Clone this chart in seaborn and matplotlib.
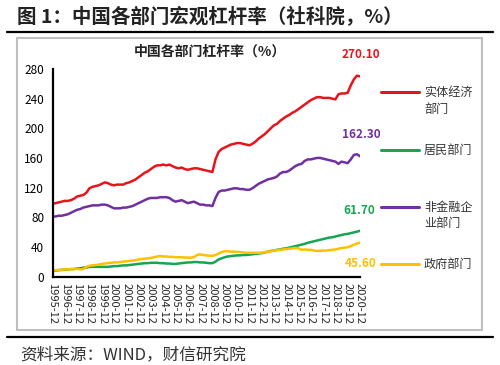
import numpy as np
import pandas as pd
import seaborn as sns
import matplotlib
matplotlib.use("Agg")
import matplotlib.pyplot as plt
from matplotlib.lines import Line2D
from matplotlib.patches import Rectangle

# ---------------- data (quarterly, 1995-12 .. 2020-12) ----------------
years = list(range(1995, 2021))
tick_labels = [f"{y}-12" for y in years]

real_economy = [98,
    99, 100, 101, 102,
    102, 103, 105, 108,
    109, 110, 113, 119,
    121, 122, 123, 125,
    127, 126, 124, 123,
    124, 124, 124, 126,
    127, 129, 131, 134,
    137, 140, 142, 145,
    148, 150, 150, 151,
    150, 151, 149, 147,
    146, 147, 145, 144,
    145, 146, 146, 145,
    144, 143, 142, 141,
    158, 168, 172, 174,
    176, 178, 179, 180,
    180, 179, 178, 177,
    179, 182, 186, 189,
    192, 196, 200, 204,
    206, 210, 213, 216,
    218, 221, 223, 226,
    229, 232, 235, 238,
    240, 242, 242, 241,
    241, 241, 240, 239,
    246, 247, 247, 248,
    258, 266, 271, 270.10]

household = [8,
    8, 8.5, 9, 9,
    9.5, 10, 10, 11,
    11, 12, 12, 13,
    13, 13, 13, 13,
    13, 13, 13.5, 14,
    14, 14.5, 15, 15,
    15.5, 16, 16.5, 17,
    17.5, 18, 18, 18.5,
    18.5, 18.5, 18, 18,
    17.5, 17.5, 17, 17,
    17.5, 18, 18.5, 19,
    19, 19.5, 19.5, 19,
    19, 18.5, 18, 18,
    20, 23, 24.5, 26,
    27, 27.5, 28, 28.5,
    28.5, 29, 29, 29.5,
    30, 30.5, 31, 31.5,
    32.5, 33.5, 34.5, 35,
    36, 36.5, 37.5, 38,
    39, 40, 41, 42,
    43, 44, 45.5, 46.5,
    47.5, 48.5, 49.5, 50.5,
    51.5, 52.5, 53, 54,
    55, 56, 57, 57.5,
    58.5, 59.5, 60.5, 61.70]

corporate = [81,
    81, 82, 82, 83,
    84, 86, 88, 90,
    91, 93, 94, 95,
    96, 96, 96, 97,
    97, 96, 94, 92,
    92, 92, 93, 93,
    94, 95, 97, 99,
    101, 103, 105, 106,
    106, 106, 107, 107,
    107, 106, 103, 101,
    102, 103, 101, 99,
    100, 101, 99, 97,
    97, 96, 96, 95,
    106, 114, 116, 116,
    117, 118, 119, 119,
    118, 118, 117, 117,
    119, 122, 125, 127,
    129, 131, 132, 133,
    135, 139, 141, 141,
    143, 146, 149, 151,
    152, 156, 158, 158,
    159, 160, 160, 159,
    158, 157, 156, 155,
    152, 155, 154, 153,
    158, 164, 165, 162.30]

government = [8,
    8.5, 9, 9, 9.5,
    9.5, 10, 10, 10.5,
    9.5, 10, 13, 14.5,
    15, 15.5, 16, 17,
    17.5, 18, 18.5, 19,
    19, 19.5, 20, 20.5,
    21, 21.5, 22, 23,
    23.5, 24, 24.5, 25,
    26, 27, 27.5, 27,
    27, 26.5, 26.5, 26,
    26, 26, 25.5, 25.5,
    25.5, 26, 29, 30,
    29, 28.5, 28, 28,
    29, 31, 33, 34,
    34, 33.5, 33.5, 33,
    33, 32.5, 32, 32,
    32, 32, 32, 32,
    33, 33.5, 34, 35,
    35.5, 36, 36.5, 37,
    37.5, 38, 38.5, 38,
    36, 36.5, 36, 36,
    35, 34.5, 34.5, 35,
    35, 35.5, 36, 36.5,
    37.5, 38.5, 39, 39.5,
    41, 43, 44.5, 45.60]

series_names = ["实体经济部门", "居民部门", "非金融企业部门", "政府部门"]
legend_lines = [["实体经济", "部门"], ["居民部门"], ["非金融企", "业部门"], ["政府部门"]]
series_values = [real_economy, household, corporate, government]
colors = ["#E8141C", "#17A552", "#7030A0", "#FFC000"]

rows = []
for name, vals in zip(series_names, series_values):
    for i, v in enumerate(vals):
        rows.append({"idx": i, "value": v, "sector": name})
df = pd.DataFrame(rows)

# ---------------- style ----------------
sns.set_style("white")
plt.rcParams["font.family"] = ["Noto Sans CJK SC", "DejaVu Sans"]
plt.rcParams["axes.unicode_minus"] = False

W, H = 500, 365
fig = plt.figure(figsize=(W / 100, H / 100), dpi=100)


def fx(x):
    return x / W


def fy(y):
    return 1 - y / H


# axes placement (pixel based)
ax_left, ax_right, ax_top, ax_bottom = 52.5, 360, 69, 276.5
ax = fig.add_axes([fx(ax_left), fy(ax_bottom), fx(ax_right - ax_left), (ax_bottom - ax_top) / H])

sns.lineplot(data=df, x="idx", y="value", hue="sector", hue_order=series_names,
             palette=colors, linewidth=1.8, legend=False, ax=ax)

n = len(real_economy)
ax.set_xlim(0, n - 1)
ax.set_ylim(0, 280)
ax.set_yticks(np.arange(0, 281, 40))
ax.set_xticks(np.arange(0, n, 4))
ax.set_xticklabels(tick_labels, rotation=270, fontsize=8)
ax.tick_params(axis="y", labelsize=8.5, direction="inout", length=4, width=1.5, pad=4, colors="black")
ax.tick_params(axis="x", direction="out", length=3, width=1.2, pad=2)
for lab in ax.get_yticklabels():
    lab.set_fontfamily(["Noto Sans CJK SC", "DejaVu Sans"])
ax.set_xlabel("")
ax.set_ylabel("")
for s in ["top", "right"]:
    ax.spines[s].set_visible(False)
for s in ["left", "bottom"]:
    ax.spines[s].set_color("black")
    ax.spines[s].set_linewidth(1.6)
ax.grid(False)

# end value labels
end_label_pos = [(100.3, 299.5), (99.6, 88.6), (100.3, 191.5), (100.3, 17.0)]
for vals, col, (lx, ly) in zip(series_values, colors, end_label_pos):
    ax.text(lx, ly, f"{vals[-1]:.2f}", color=col, fontsize=8.5, fontweight="bold",
            ha="center", va="center", clip_on=False)

# chart title
fig.text(fx(210), fy(52), "中国各部门杠杆率（%）", ha="center", va="center",
         fontsize=10, fontweight="bold", color="#222222")

# manual legend
leg_y = [92, 150, 207, 264]
for lines, col, y in zip(legend_lines, colors, leg_y):
    fig.add_artist(Line2D([fx(381), fx(419)], [fy(y), fy(y)], color=col, linewidth=2.2,
                          transform=fig.transFigure))
    for k, t in enumerate(lines):
        fig.text(fx(424), fy(y + k * 17), t, ha="left", va="center", fontsize=8.7, color="#333333")

# outer gray frame
fig.add_artist(Rectangle((fx(17), fy(330)), fx(482 - 17), (330 - 38) / H, fill=False,
                         edgecolor="#BFBFBF", linewidth=1.5, transform=fig.transFigure))

# top title and rules
fig.text(fx(17), fy(17.5), "图 1：中国各部门宏观杠杆率（社科院，%）", ha="left", va="center",
         fontsize=14, fontweight="bold", color="#222222")
fig.add_artist(Line2D([fx(7), fx(493)], [fy(32), fy(32)], color="black", linewidth=1.6,
                      transform=fig.transFigure))
fig.add_artist(Line2D([fx(7), fx(493)], [fy(337), fy(337)], color="black", linewidth=1.6,
                      transform=fig.transFigure))

# source
fig.text(fx(20), fy(355), "资料来源：WIND，财信研究院", ha="left", va="center",
         fontsize=12, color="#333333")

fig.savefig("out.png", dpi=100, facecolor="white")
